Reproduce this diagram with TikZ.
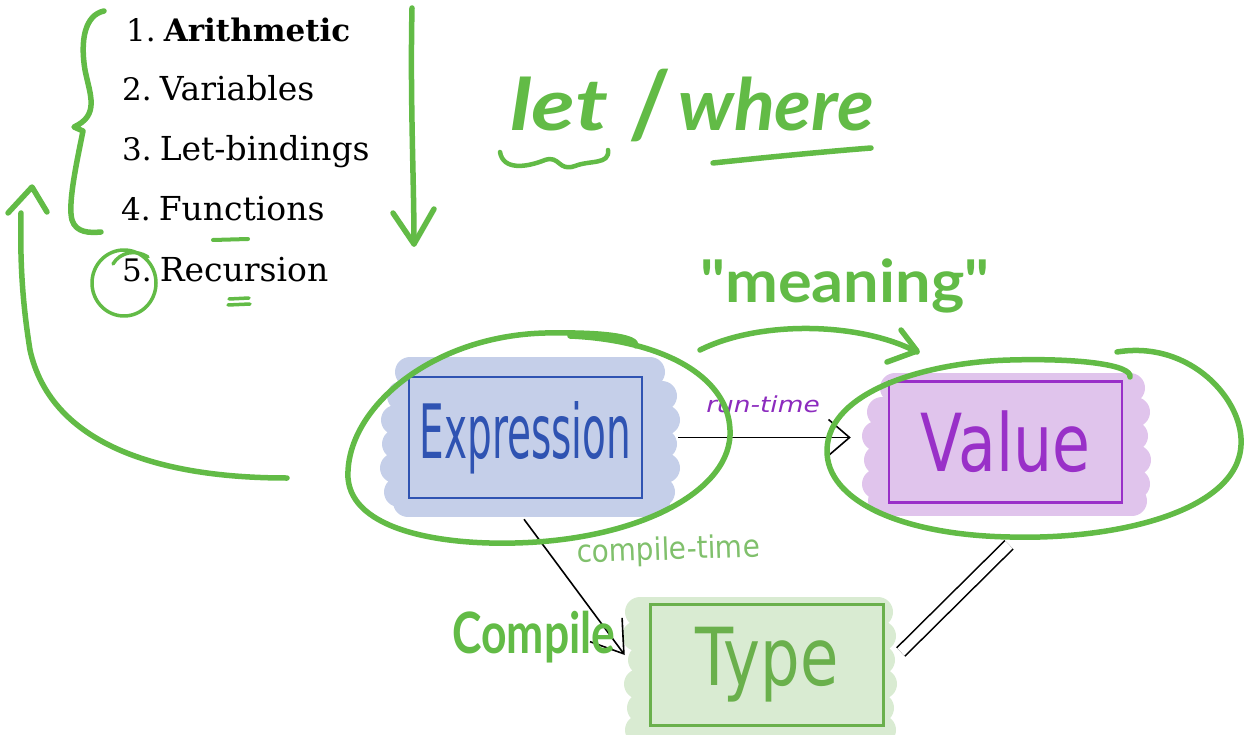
\documentclass[tikz,border=0pt]{standalone}
\usepackage{fontspec}
\usepackage{graphicx}
\setmainfont{DejaVu Serif}
\newfontfamily\handfont{DejaVu Sans}
\newfontfamily\brushfont{Lato}
\usetikzlibrary{arrows.meta,calc}

\definecolor{pen}{HTML}{62BB46}
\definecolor{bluepen}{HTML}{2F53B2}
\definecolor{bluehl}{HTML}{C5CFE9}
\definecolor{purplepen}{HTML}{9930C8}
\definecolor{purplehl}{HTML}{E0C4EC}
\definecolor{runpurple}{HTML}{8C2BBE}
\definecolor{greenpen}{HTML}{6AB04C}
\definecolor{greenhl}{HTML}{D9EBD2}
\definecolor{greentext}{HTML}{80C06C}

% item number in the topic list
\newcommand\listnum[1]{{\fontsize{31}{37}\selectfont #1.}\hspace{8pt}}

\tikzset{
  brush/.style={draw=pen, line width=5.5, line cap=round, line join=round},
  marker/.style={line width=30, line cap=round},
  listitem/.style={anchor=base west, inner sep=0, font=\fontsize{33}{37}\selectfont},
  conceptbox/.style={draw, line width=2.5, minimum width=233, minimum height=121, inner sep=0},
  conn/.style={draw=black, line width=1.6},
  handlabel/.style={inner sep=0, font=\handfont\fontsize{80}{90}\selectfont},
}

\begin{document}
\begin{tikzpicture}[x=1pt, y=-1pt]
\useasboundingbox (0,0) rectangle (1244,735);

% ---- highlighter strokes behind the boxes ----
\draw[marker, bluehl]
  (410,372) -- (650,372)  (402,396) -- (662,396)  (396,420) -- (665,420)
  (397,444) -- (662,444)  (395,468) -- (665,468)  (399,492) -- (660,492)
  (408,502) -- (655,502);

\draw[marker, purplehl]
  (895,388) -- (1130,388)  (882,412) -- (1135,412)  (877,436) -- (1133,436)
  (879,460) -- (1136,460)  (877,484) -- (1135,484)  (883,501) -- (1132,501);

\draw[marker, greenhl]
  (640,612) -- (878,612)  (637,636) -- (881,636)  (643,660) -- (880,660)
  (639,684) -- (882,684)  (642,708) -- (879,708)  (640,730) -- (881,730);

% ---- concept boxes ----
\node[conceptbox, draw=bluepen, text=bluepen, handlabel] (expr) at (525.5,437.5)
  {\scalebox{0.52}[1]{\fontsize{75}{85}\selectfont Expression}};
\node[conceptbox, draw=purplepen, text=purplepen, handlabel] (val) at (1005.5,442)
  {\scalebox{0.77}[1]{Value}};
\node[conceptbox, draw=greenpen, text=greenpen, handlabel] (ty) at (767,665)
  {\scalebox{0.78}[1]{Type}};

% ---- connectors ----
\draw[conn, -{Straight Barb[length=21,width=36]}, shorten <=35, shorten >=37]
  (expr.east) -- (expr.east -| val.west);
\node[inner sep=0, text=runpurple, font=\handfont\itshape\fontsize{22}{24}\selectfont] (rt) at (763,404)
  {\scalebox{1.2}[1]{run-time}};

\draw[conn, -{Straight Barb[length=30,width=40]}]
  ($(expr.south)+(-1.5,20)$) -- ($(ty.west)+(-24.5,-10)$);
\node[anchor=base west, inner sep=0, rotate=2, text=greentext, font=\handfont\fontsize{31}{34}\selectfont] (ct) at (577,563)
  {\scalebox{0.9}[1]{compile-time}};

\draw[line width=1.6, double distance=10] ($(val.south)+(3.5,41)$) -- ($(ty.east)+(16,-13)$);

% ---- topic list ----
\node[listitem] (l1) at (126,42) {\listnum{1}{\fontsize{31}{37}\selectfont\bfseries Arithmetic}};
\node[listitem] (l2) at (122,101) {\listnum{2}Variables};
\node[listitem] (l3) at (122,161) {\listnum{3}Let-bindings};
\node[listitem] (l4) at (121,221) {\listnum{4}Functions};
\node[listitem] (l5) at (122,281) {\listnum{5}Recursion};

% ---- pen annotations ----
% brace grouping items 1--4
\draw[brush] (104,11) .. controls (85,15) and (80,40) .. (85,70)
  .. controls (90,95) and (100,115) .. (74,127) -- (83,131)
  .. controls (75,170) and (68,205) .. (72,220)
  .. controls (76,233) and (90,233) .. (101,232);
% downward arrow beside the list
\draw[brush] (412,8) .. controls (410,100) and (414,180) .. (414,244);
\draw[brush] (393,213) -- (414,244) -- (434,209);
% marks under items 4 and 5
\draw[brush, line width=4] (213,240) -- (248,239);
\draw[brush, line width=3.5] (229,299) -- (249,298) (228,305) -- (250,304);
% circle round the 5
\draw[brush, line width=3.5] (124,283) ellipse [x radius=32, y radius=33];
\draw[brush, line width=3.5] (113,264) .. controls (120,252) and (136,249) .. (148,257);
% long arrow back up to the top
\draw[brush] (287,478) .. controls (150,478) and (50,440) .. (30,350)
  .. controls (22,300) and (20,260) .. (21,213);
\draw[brush] (8,213) -- (32,187) -- (47,212);

% let / where
\node[anchor=base west, inner sep=0, text=pen, font=\brushfont\bfseries\itshape\fontsize{72}{80}\selectfont] (let) at (510,131)
  {\scalebox{1.25}[1]{let}};
\node[inner sep=0, text=pen, font=\brushfont\bfseries\fontsize{92}{100}\selectfont] (slash) at (650,106) {/};
\node[anchor=base west, inner sep=0, text=pen, font=\brushfont\bfseries\itshape\fontsize{72}{80}\selectfont] (where) at (678,131)
  {\scalebox{1.05}[1]{where}};
\draw[brush, line width=4.5] (500,152) .. controls (503,170) and (525,168) .. (545,160)
  .. controls (560,155) and (558,172) .. (575,166)
  .. controls (590,160) and (610,165) .. (608,150);
\draw[brush] (713,163) .. controls (760,158) and (820,152) .. (871,148);

% "meaning" and its arrow
\node[anchor=base west, inner sep=0, text=pen, font=\brushfont\bfseries\fontsize{59}{66}\selectfont] (meaning) at (700,302)
  {\scalebox{1.07}[1]{"meaning"}};
\draw[brush] (700,350) .. controls (760,320) and (860,322) .. (917,352);
\draw[brush] (901,330) -- (917,351) -- (887,362);

% loop round Expression
\draw[brush] (636,346) .. controls (638,336) and (600,332) .. (545,333)
  .. controls (430,336) and (345,410) .. (348,478)
  .. controls (352,530) and (440,545) .. (515,543)
  .. controls (640,540) and (733,490) .. (730,430)
  .. controls (728,375) and (660,340) .. (570,336);
% loop round Value
\draw[brush] (1117,352) .. controls (1190,340) and (1244,400) .. (1241,445)
  .. controls (1238,510) and (1120,540) .. (1010,537)
  .. controls (900,535) and (826,500) .. (827,450)
  .. controls (828,390) and (930,362) .. (1010,360)
  .. controls (1080,358) and (1132,365) .. (1130,377);

% Compile
\node[anchor=base west, inner sep=0, text=pen, font=\brushfont\bfseries\fontsize{57}{62}\selectfont] (compile) at (452,653)
  {\scalebox{0.78}[1]{Compile}};
\end{tikzpicture}
\end{document}
